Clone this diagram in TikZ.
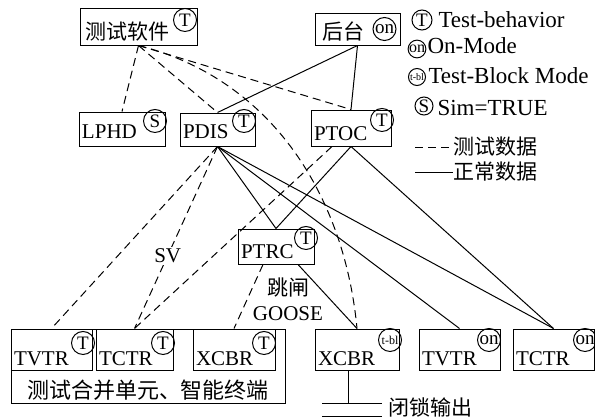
\documentclass[tikz,border=0pt]{standalone}
\usepackage{fontspec}
\setmainfont{Liberation Serif}
\newfontfamily\cjk{Noto Sans CJK SC}

\begin{document}
\begin{tikzpicture}[x=0.5pt, y=-0.5pt, line width=0.5pt]
%define
\tikzstyle{box} = [rectangle, draw=black, inner xsep=1.5pt, inner ysep=1pt, align=left, font=\fontsize{10.5}{12}\selectfont]
\tikzstyle{leaf} = [box, text width=37.5pt, text height=17pt, text depth=1.5pt]
\tikzstyle{badge} = [circle, draw=black, inner sep=0pt, minimum size=11.5pt, font=\fontsize{9.5}{9.5}\selectfont]
\tikzstyle{badge_s} = [badge, font=\fontsize{6}{6}\selectfont]
\tikzstyle{legend} = [inner sep=0pt, font=\fontsize{11.5}{12}\selectfont]
\tikzstyle{cn} = [inner sep=0pt, font=\cjk\fontsize{10.5}{12.5}\selectfont]
\tikzstyle{tst} = [dash pattern=on 4pt off 2.5pt]

\useasboundingbox (0,0) rectangle (595,418);

%top
\node[box, font=\cjk\fontsize{10.5}{12}\selectfont, inner xsep=2.5pt, text width=53.5pt, text height=14.75pt, text depth=1.75pt](box_Soft) at (138.5,26.5){测试软件};
\node[badge, anchor=north east](badge_Soft) at ([shift={(-2pt,-2pt)}]box_Soft.north east){T};
\node[box, font=\cjk\fontsize{10.5}{12}\selectfont, inner xsep=3.5pt, text width=35.5pt, text height=12.25pt, text depth=1.75pt](box_Back) at (357.5,29){后台};
\node[badge, anchor=east](badge_Back) at ([xshift=-2pt]box_Back.east){on};

%middle
\node[box, text width=40pt, text height=12pt, text depth=3pt](box_LPHD) at (122,129){LPHD};
\node[badge, anchor=north east](badge_LPHD) at ([shift={(-1pt,-0.5pt)}]box_LPHD.north east){S};
\node[box, text width=34.5pt, text height=11.5pt, text depth=3pt](box_PDIS) at (217.5,129.5){PDIS};
\node[badge, anchor=north east](badge_PDIS) at ([shift={(-1.5pt,0pt)}]box_PDIS.north east){T};
\node[box, text width=37pt, text height=14pt, text depth=2pt](box_PTOC) at (351,128){PTOC};
\node[badge, anchor=north east](badge_PTOC) at ([shift={(-0.5pt,-1pt)}]box_PTOC.north east){T};
\node[box, text width=35pt, text height=13.5pt, text depth=2pt](box_PTRC) at (276,246.5){PTRC};
\node[badge, anchor=north east](badge_PTRC) at ([shift={(0pt,-0.5pt)}]box_PTRC.north east){T};

%bottom
\node[draw, minimum width=137pt, minimum height=37pt](box_MU) at (148,366){};
\node[cn, font=\cjk\fontsize{11}{12}\selectfont](lbl_MU) at (148,390){测试合并单元、智能终端};
\node[leaf](box_TVTRa) at (51.5,349.5){TVTR};
\node[badge, anchor=north east](badge_TVTRa) at ([shift={(-0.5pt,-3pt)}]box_TVTRa.north east){T};
\node[leaf, text width=35.5pt](box_TCTRa) at (134.5,349.5){TCTR};
\node[badge, anchor=north east](badge_TCTRa) at ([shift={(-1pt,-3pt)}]box_TCTRa.north east){T};
\node[leaf, text width=38pt](box_XCBRa) at (234,349.5){XCBR};
\node[badge, anchor=north east](badge_XCBRa) at ([shift={(-1.5pt,-3pt)}]box_XCBRa.north east){T};
\node[leaf, text width=39pt](box_XCBRb) at (357,349.5){XCBR};
\node[badge_s, anchor=north east](badge_XCBRb) at ([shift={(-0.5pt,-1.5pt)}]box_XCBRb.north east){t-bl};
\node[leaf](box_TVTRb) at (459.5,349.5){TVTR};
\node[badge, anchor=north east](badge_TVTRb) at ([shift={(-1.5pt,-1.5pt)}]box_TVTRb.north east){on};
\node[leaf](box_TCTRb) at (553.5,349.5){TCTR};
\node[badge, anchor=north east](badge_TCTRb) at ([shift={(-0.5pt,-1.5pt)}]box_TCTRb.north east){on};

%legend
\node[badge, minimum size=10pt](leg_T) at (422,20){T};
\node[legend, anchor=base west](leg_Ttxt) at (438,27){Test-behavior};
\node[badge, minimum size=8.5pt, font=\fontsize{8}{8}\selectfont](leg_on) at (417,49){on};
\node[legend, anchor=base west](leg_ontxt) at (427,53){On-Mode};
\node[badge, minimum size=8.5pt, font=\fontsize{5}{5}\selectfont](leg_tbl) at (417,77){t-bl};
\node[legend, anchor=base west](leg_tbltxt) at (428,83){Test-Block Mode};
\node[badge, minimum size=9pt](leg_S) at (424,106){S};
\node[legend, anchor=base west](leg_Stxt) at (437,115){Sim=TRUE};
\node[cn, anchor=west](leg_tst) at (453,147){测试数据};
\node[cn, anchor=west](leg_nrm) at (453,172){正常数据};
\coordinate (leg_tstL) at (415,147);
\coordinate (leg_nrmL) at (415,172);
\draw[tst](leg_tstL)--(leg_tst.west);
\draw(leg_nrmL)--(leg_nrm.west);

%line
\draw(box_Back.south)--(box_PDIS.north);
\draw(box_Back.south)--(box_PTOC.north);
\draw(box_PDIS.south)--(box_PTRC.north);
\draw(box_PTOC.south)--(box_PTRC.north);
\draw(box_PDIS.south)--(box_TVTRb.north);
\draw(box_PDIS.south)--(box_TCTRb.north);
\draw(box_PTOC.south)--(box_TCTRb.north);
\draw([xshift=11pt]box_PTRC.south)--(box_XCBRb.north); %PTRC->XCBR
%dashed
\draw[tst](box_Soft.south)--(box_LPHD.north);
\draw[tst](box_Soft.south)--(box_PDIS.north);
\draw[tst](box_Soft.south)--(box_PTOC.north);
\draw[tst](box_Soft.south) .. controls (275,80) and (345,200) .. (box_XCBRb.north); %Soft->XCBR(t-bl)
\draw[tst](box_PDIS.south)--(box_TVTRa.north);
\draw[tst](box_PDIS.south)--node[pos=0.6, fill=white, inner sep=1pt, font=\fontsize{10.5}{12}\selectfont](lbl_SV){SV}(box_TCTRa.north);
\draw[tst]([xshift=-9.5pt]box_PTOC.south)--(box_TCTRa.north); %PTOC->TCTR
\draw[tst]([xshift=-6.5pt]box_PTRC.south)--(box_XCBRa.north); %PTRC->XCBR
\node[align=center, inner sep=0pt, font=\fontsize{10.5}{12.5}\selectfont](lbl_GOOSE) at (288,299){{\cjk 跳闸}\\GOOSE};

%lock output
\coordinate (lock_A) at (348,403);
\coordinate (bar_L1) at (322,403);
\coordinate (bar_R1) at (382,403);
\coordinate (bar_L2) at (322,416);
\coordinate (bar_R2) at (382,416);
\draw([xshift=-4.5pt]box_XCBRb.south)--(lock_A);
\draw(bar_L1)--(bar_R1);
\draw(bar_L2)--(bar_R2);
\node[cn, anchor=west](lbl_lock) at (388,407){闭锁输出};

\end{tikzpicture}
\end{document}
